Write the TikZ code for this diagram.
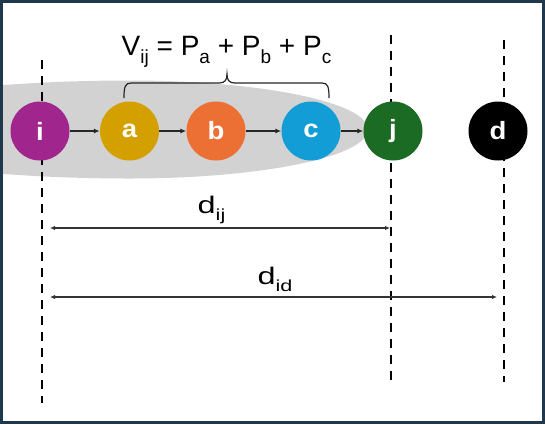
\documentclass[tikz,border=0pt]{standalone}
\usepackage{fontspec}
\setmainfont{Liberation Sans}
\newfontfamily\dotfont{Liberation Sans}[FakeStretch=1.1]
\newfontfamily\dimfont{Liberation Sans}[FakeStretch=1.35]
\usetikzlibrary{
  arrows.meta, positioning
}
\definecolor{framecol}{RGB}{31,56,76}
\definecolor{hullcol}{RGB}{210,210,210}
\definecolor{icol}{RGB}{160,38,142}
\definecolor{acol}{RGB}{212,160,0}
\definecolor{bcol}{RGB}{236,112,52}
\definecolor{ccol}{RGB}{19,157,215}
\definecolor{jcol}{RGB}{27,107,36}
\definecolor{dcol}{RGB}{0,0,0}
% lowered subscript: size, text
\newcommand\lsub[2]{\raisebox{-0.3em}{\fontsize{#1}{#1}\selectfont #2}}

\begin{document}
\begin{tikzpicture}[x=1pt,y=-1pt,
    hop/.style={circle, minimum size=59pt, inner sep=0pt, text=white,
      font=\dotfont\fontsize{25}{27}\selectfont\bfseries},
    link/.style={-{Latex[length=6pt,width=5pt]}, line width=1.2pt, black!85},
    span/.style={{Latex[length=5pt,width=4.5pt]}-{Latex[length=5pt,width=4.5pt]},
      line width=1.3pt, black!80},
    guide/.style={line width=2.4pt, dash pattern=on 9pt off 7pt, black}]
  \useasboundingbox (0,0) rectangle (545,424);

  % grey hull behind the path
  \begin{scope}
    \clip (0,0) rectangle (545,424);
    \fill[hullcol] (130,80.5)
      arc[start angle=-90, end angle=90, x radius=238, y radius=49]
      arc[start angle=90, end angle=270, x radius=300, y radius=49];
  \end{scope}

  % edit here for the vertical dashed lines
  \foreach \name/\x/\ya/\yb in {gi/42/60/403, gj/391/35/380, gd/504/40/382}{
    \coordinate (\name top) at (\x,\ya);
    \coordinate (\name bot) at (\x,\yb);
    \draw[guide] (\name top) -- (\name bot);
  }

  \node[hop, fill=icol] (i) at (40,131) {i};
  \node[hop, fill=acol] (a) at (129.5,131) {a};
  \node[hop, fill=bcol] (b) at (216,131) {b};
  \node[hop, fill=ccol] (c) at (311,131) {c};
  \node[hop, fill=jcol] (j) at (393,131) {j};
  \node[hop, fill=dcol] (d) at (498,131) {d};

  \foreach \u/\v in {i/a, a/b, b/c, c/j}
    \draw[link] (\u) -- (\v);

  % brace over a, b, c
  \draw[line width=1.2pt, black!85] (124,98) .. controls (124,87) and (125,83) .. (131,83)
    -- (219,83) .. controls (225,83) and (227,80) .. (227,74)
    .. controls (227,80) and (229,83) .. (235,83) -- (322,83)
    .. controls (328,83) and (329,87) .. (329,98);
  \node[anchor=base, font=\fontsize{28}{30}\selectfont] (vij) at (226.5,55)
    {V\lsub{19}{ij} = P\lsub{19}{a} + P\lsub{19}{b} + P\lsub{19}{c}};

  % distances
  \coordinate (ijL) at (50,228);
  \coordinate (ijR) at (390,228);
  \coordinate (idL) at (50,297);
  \coordinate (idR) at (497,297);
  \draw[span] (ijL) -- (ijR);
  \draw[span] (idL) -- (idR);
  \node[anchor=base, font=\dimfont\fontsize{24}{26}\selectfont] (dij) at (211.5,213) {d\lsub{16}{ij}};
  \node[anchor=base, font=\dimfont\fontsize{24}{26}\selectfont] (did) at (275,284) {d\lsub{16}{id}};

  \draw[framecol, line width=3pt] (1.5,1.5) rectangle (543.5,422.5);
\end{tikzpicture}
\end{document}
